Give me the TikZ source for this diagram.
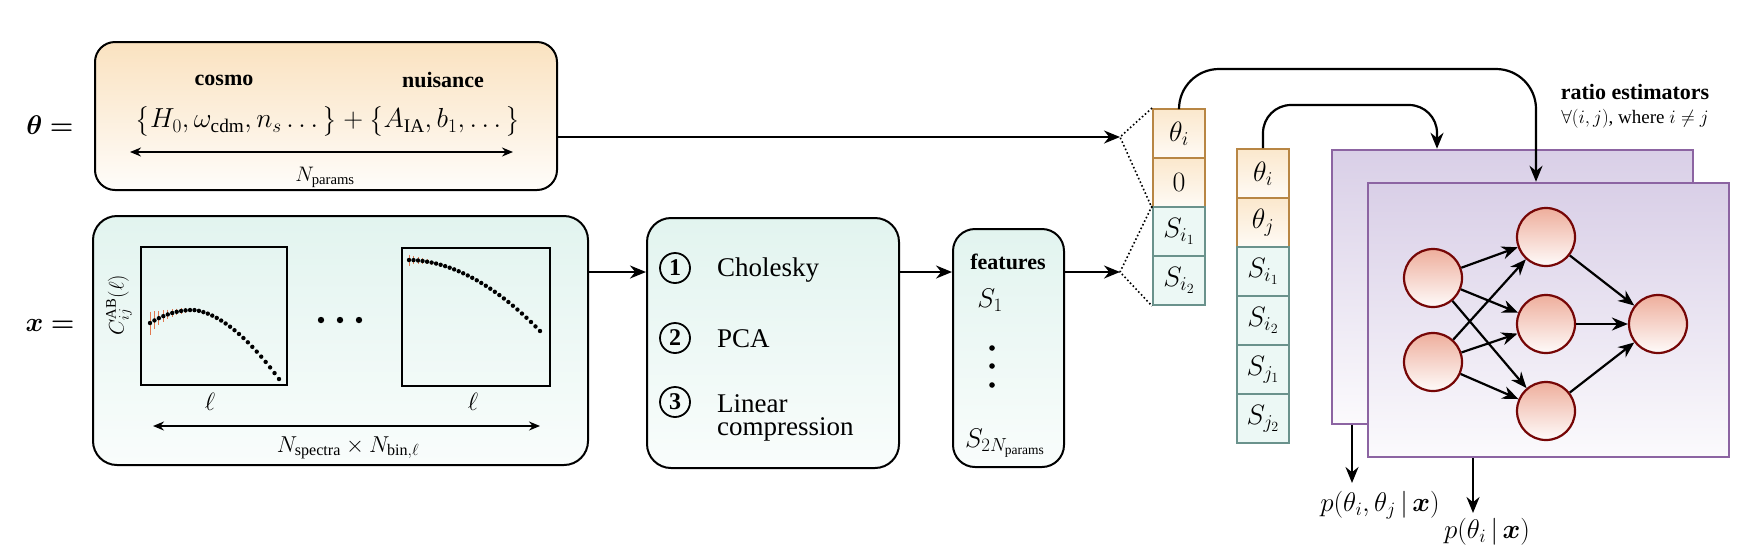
\RequirePackage{fix-cm}
\documentclass[tikz,border=0pt]{standalone}
\usepackage{amsmath}
\usepackage{fontspec}
\setmainfont{Liberation Serif}
\usetikzlibrary{arrows.meta, positioning, calc}

\definecolor{peach}{RGB}{250,226,192}
\definecolor{mint}{RGB}{226,244,239}
\definecolor{cellorange}{RGB}{184,134,68}
\definecolor{cellteal}{RGB}{106,146,140}
\definecolor{cellmint}{RGB}{236,248,245}
\definecolor{nnpurple}{RGB}{140,100,162}
\definecolor{lavender}{RGB}{217,207,231}
\definecolor{neuronfill}{RGB}{238,174,156}
\definecolor{neuronedge}{RGB}{118,6,6}
\definecolor{errbar}{RGB}{225,120,80}

\newcommand{\fsz}[1]{\fontsize{#1}{#1}\selectfont}

\begin{document}
\begin{tikzpicture}[x=1pt, y=-1pt,
  box/.style={draw, line width=2pt, rounded corners=20pt, inner sep=0pt},
  peachbox/.style={box, top color=peach, bottom color=peach!8},
  mintbox/.style={box, top color=mint, bottom color=mint!20},
  cellbox/.style={draw, line width=2pt, minimum width=52pt, minimum height=49pt, inner sep=0pt, font=\fsz{28}},
  ocell/.style={cellbox, draw=cellorange, top color=peach!80, bottom color=peach!15},
  tcell/.style={cellbox, draw=cellteal, fill=cellmint},
  nnbox/.style={draw=nnpurple, line width=2.5pt, top color=lavender, bottom color=lavender!10, minimum width=361pt, minimum height=274pt},
  neuron/.style={circle, draw=neuronedge, line width=2.2pt, top color=neuronfill, bottom color=neuronfill!5, minimum size=58pt},
  arr/.style={-{Stealth[length=16pt, width=13pt]}, line width=2.2pt},
  dbl/.style={{Stealth[length=11pt, width=9pt]}-{Stealth[length=11pt, width=9pt]}, line width=1.6pt},
  numcirc/.style={circle, draw, line width=1.8pt, minimum size=30pt, inner sep=0pt, font=\fsz{24}\bfseries},
  boldlab/.style={font=\fsz{22}\bfseries}]
  \useasboundingbox (0,0) rectangle (1760,550);

  % パラメータ θ
  \node[font=\fsz{27}] (thetalab) at (50,125) {$\boldsymbol{\theta}\mathrel{\boldsymbol{=}}$};
  \node[peachbox, minimum width=462pt, minimum height=148pt] (thetabox) at (326,116) {};
  \node[boldlab] (cosmo) at (224,80) {cosmo};
  \node[boldlab] (nuis) at (443,80) {nuisance};
  \node[font=\fsz{27.5}] (thetaset) at (328,121) {$\bigl\{H_0, \omega_{\mathrm{cdm}}, n_s \dots\bigr\} + \bigl\{A_{\mathrm{IA}}, b_1, \dots\bigr\}$};
  \coordinate (npl) at (130,152);
  \coordinate (npr) at (513,152);
  \draw[dbl] (npl) -- (npr);
  \node[font=\fsz{21}] (nparams) at (325,177) {$N_{\mathrm{params}}$};

  % データ x
  \node[font=\fsz{27}] (xlab) at (50,325) {$\boldsymbol{x}\mathrel{\boldsymbol{=}}$};
  \node[mintbox, rounded corners=24pt, minimum width=495pt, minimum height=249pt] (xbox) at (340.5,340.5) {};
  \node[draw, line width=1.2pt, minimum width=146pt, minimum height=138pt, inner sep=0pt] (plotA) at (214,316) {};
  \node[draw, line width=1.2pt, minimum width=148pt, minimum height=138pt, inner sep=0pt] (plotB) at (476,317) {};
  \node[rotate=90, font=\fsz{21}] (ylab) at (119,305) {$C_{ij}^{\mathrm{AB}}(\ell)$};
  \node[font=\fsz{25}] (ellA) at (210,402) {$\ell$};
  \node[font=\fsz{25}] (ellB) at (473,402) {$\ell$};
  % スペクトルの点
  \foreach \k in {0,...,29} {
    \pgfmathsetmacro\t{\k/29}
    \pgfmathsetmacro\v{max(0.33-\t,0)/0.33}
    \pgfmathsetmacro\px{150+129*\t}
    \pgfmathsetmacro\py{310+13*\v*\v+69*(max(\t-0.33,0.0001)/0.67)^1.7}
    \pgfmathsetmacro\eb{1.5+10*exp(-\k/3.5)}
    \draw[errbar, line width=1pt] (\px,\py-\eb) -- (\px,\py+\eb);
    \fill (\px,\py) circle (2.2pt);
  }
  \foreach \k in {0,...,29} {
    \pgfmathsetmacro\t{\k/29}
    \pgfmathsetmacro\px{409+131*\t}
    \pgfmathsetmacro\py{260+71*(max(\t,0.0001))^1.9}
    \pgfmathsetmacro\eb{1.5+4*exp(-\k/2.5)}
    \draw[errbar, line width=1pt] (\px,\py-\eb) -- (\px,\py+\eb);
    \fill (\px,\py) circle (2.2pt);
  }
  \foreach \dx in {-19,0,19}
    \fill (340+\dx,320) circle (3.2pt);
  \coordinate (nsl) at (153,426);
  \coordinate (nsr) at (540,426);
  \draw[dbl] (nsl) -- (nsr);
  \node[font=\fsz{23}] (nspec) at (348,448) {$N_{\mathrm{spectra}} \times N_{\mathrm{bin},\ell}$};

  % 圧縮
  \node[mintbox, rounded corners=24pt, minimum width=252pt, minimum height=250pt] (comp) at (773,343) {};
  \node[numcirc] (num1) at (675,268) {1};
  \node[numcirc] (num2) at (675,338) {2};
  \node[numcirc] (num3) at (675,402) {3};
  \node[anchor=base west, font=\fsz{27}, inner sep=0pt] (chol) at (717,276) {Cholesky};
  \node[anchor=base west, font=\fsz{27}, inner sep=0pt] (pca) at (717,347) {PCA};
  \node[anchor=west, align=left, font={\fontsize{27}{23}\selectfont}, inner sep=0pt] (lincomp) at (717,418) {Linear\\compression};
  \coordinate (row) at (0,272);
  \draw[arr] (xbox.east |- row) -- (comp.west |- row);

  % 特徴量
  \node[mintbox, rounded corners=22pt, minimum width=111pt, minimum height=238pt] (feat) at (1008.5,348) {};
  \node[boldlab] (featlab) at (1008,262) {features};
  \node[font=\fsz{27}] (s1) at (990,300) {$S_1$};
  \foreach \dy in {348,366,385}
    \fill (992,\dy) circle (2.8pt);
  \node[font=\fsz{27}] (s2n) at (1005,443) {$S_{2N_{\mathrm{params}}}$};
  \draw[arr] (comp.east |- row) -- (feat.west |- row);

  % 入力ベクトル
  \foreach \lab/\sty [count=\k] in {{$\theta_i$}/ocell, {$0$}/ocell, {$S_{i_1}$}/tcell, {$S_{i_2}$}/tcell}
    \node[\sty] (ca\k) at (1179,84.5+49*\k) {\lab};
  \foreach \lab/\sty [count=\k] in {{$\theta_i$}/ocell, {$\theta_j$}/ocell, {$S_{i_1}$}/tcell, {$S_{i_2}$}/tcell, {$S_{j_1}$}/tcell, {$S_{j_2}$}/tcell}
    \node[\sty] (cb\k) at (1263,124.5+49*\k) {\lab};
  \coordinate (tsplit) at (1120,137);
  \coordinate (fsplit) at (1120,272);
  \draw[arr] (thetabox.east |- tsplit) -- (tsplit);
  \draw[arr] (feat.east |- fsplit) -- (fsplit);
  \draw[line width=1.6pt, dash pattern=on 1.6pt off 2.4pt] (ca1.north west) -- (tsplit) -- (ca2.south west);
  \draw[line width=1.6pt, dash pattern=on 1.6pt off 2.4pt] (ca3.north west) -- (fsplit) -- (ca4.south west);

  % 比推定器
  \node[nnbox] (back) at (1512.5,287) {};
  \node[nnbox] (front) at (1548.5,320) {};
  \node[boldlab] (ratio) at (1635,92) {ratio estimators};
  \node[font=\fsz{19}] (forall) at (1635,119) {$\forall(i,j)$, where $i \neq j$};
  \node[neuron] (in1) at (1433,278) {};
  \node[neuron] (in2) at (1433,362) {};
  \node[neuron] (hid1) at (1546,237) {};
  \node[neuron] (hid2) at (1546,324) {};
  \node[neuron] (hid3) at (1546,411) {};
  \node[neuron] (out) at (1658,324) {};
  \foreach \a in {1,2}
    \foreach \b in {1,2,3}
      \draw[arr] (in\a) -- (hid\b);
  \foreach \b in {1,2,3}
    \draw[arr] (hid\b) -- (out);

  % 接続
  \coordinate (topA) at (1536,69);
  \coordinate (topB) at (1437,105);
  \draw[arr, rounded corners=40pt] (ca1.north) |- (topA) -- (topA |- front.north);
  \draw[arr, rounded corners=28pt] (cb1.north) |- (topB) -- (topB |- back.north);

  % 出力
  \node[font=\fsz{27}] (pj) at (1380,505) {$p(\theta_i, \theta_j\,|\,\boldsymbol{x})$};
  \node[font=\fsz{27}] (pi) at (1487,532) {$p(\theta_i\,|\,\boldsymbol{x})$};
  \coordinate (outA) at (1352,483);
  \coordinate (outB) at (1473,513);
  \draw[arr] (outA |- back.south) -- (outA);
  \draw[arr] (outB |- front.south) -- (outB);
\end{tikzpicture}
\end{document}
